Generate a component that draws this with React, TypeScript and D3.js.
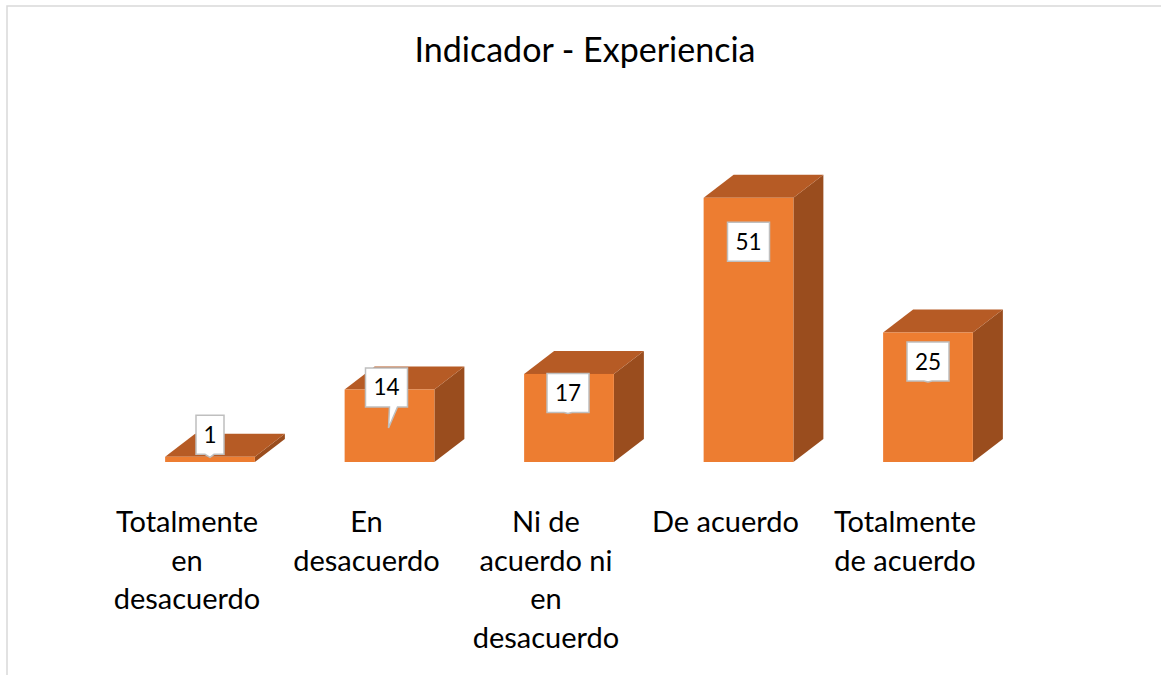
import React from "react";
import * as d3 from "d3";

const TITLE = "Indicador - Experiencia";
const categories = [
  "Totalmente en desacuerdo",
  "En desacuerdo",
  "Ni de acuerdo ni en desacuerdo",
  "De acuerdo",
  "Totalmente de acuerdo",
];
const categoryLines = [
  ["Totalmente", "en", "desacuerdo"],
  ["En", "desacuerdo"],
  ["Ni de", "acuerdo ni", "en", "desacuerdo"],
  ["De acuerdo"],
  ["Totalmente", "de acuerdo"],
];
const values = [1, 14, 17, 51, 25];

// callout placement tweaks (layout, not data)
const calloutLayout = [
  { dx: 0, dy: -22, tail: 3, tipDx: 0, baseL: -5, baseR: 4 },
  { dx: -3, dy: -2, tail: 21, tipDx: 2, baseL: 3, baseR: 11 },
  { dx: -1, dy: 19, tail: 1, tipDx: 0, baseL: -4, baseR: 4 },
  { dx: 0, dy: 44, tail: 0, tipDx: 0, baseL: -4, baseR: 4 },
  { dx: 0, dy: 29, tail: 1, tipDx: 0, baseL: -4, baseR: 4 },
];

const W = 1161;
const H = 675;
const FONT = "Lato, 'Open Sans', sans-serif";
const FRONT = "#ED7D31";
const TOP = "#B65B25";
const SIDE = "#9A4D1E";
const DX = 30;
const DY = -23;

export default function App() {
  const x = d3
    .scaleBand<string>()
    .domain(categories)
    .range([120.25, 1017.75])
    .paddingInner(0.5)
    .paddingOuter(0.25);
  const y = d3.scaleLinear().domain([0, 60]).range([462, 151.2]);
  const bw = x.bandwidth();

  return (
    <svg
      width={W}
      height={H}
      style={{ position: "absolute", left: 0, top: 0, display: "block" }}
      fontFamily={FONT}
    >
      <rect x={0} y={0} width={W} height={H} fill="#ffffff" />
      <rect
        x={7}
        y={6}
        width={W + 20}
        height={H + 20}
        fill="#ffffff"
        stroke="#d9d9d9"
        strokeWidth={1.5}
      />
      <text x={585} y={62} textAnchor="middle" fontSize={34} fill="#000000">
        {TITLE}
      </text>

      {categories.map((c, i) => {
        const x0 = x(c)!;
        const x1 = x0 + bw;
        const y0 = y(0);
        const yt = y(values[i]);
        const side = `M${x1},${yt} L${x1 + DX},${yt + DY} L${x1 + DX},${y0 + DY} L${x1},${y0} Z`;
        const top = `M${x0},${yt} L${x0 + DX},${yt + DY} L${x1 + DX},${yt + DY} L${x1},${yt} Z`;
        return (
          <g key={c}>
            <path d={side} fill={SIDE} />
            <path d={top} fill={TOP} />
            <rect x={x0} y={yt} width={bw} height={y0 - yt} fill={FRONT} />
          </g>
        );
      })}

      {categories.map((c, i) => {
        const L = calloutLayout[i];
        const cx = x(c)! + bw / 2 + L.dx;
        const cy = y(values[i]) + L.dy;
        const label = String(values[i]);
        const bwid = 14 + 14 * label.length;
        const bh = 39;
        const l = cx - bwid / 2;
        const r = cx + bwid / 2;
        const t = cy - bh / 2;
        const b = cy + bh / 2;
        const d =
          L.tail > 0
            ? `M${l},${t} H${r} V${b} H${cx + L.baseR} L${cx + L.tipDx},${b + L.tail} L${cx + L.baseL},${b} H${l} Z`
            : `M${l},${t} H${r} V${b} H${l} Z`;
        return (
          <g key={"lab" + c}>
            <path d={d} fill="#ffffff" stroke="#bfbfbf" strokeWidth={1.5} />
            <text
              x={cx}
              y={cy + 8}
              textAnchor="middle"
              fontSize={22.5}
              fill="#000000"
            >
              {label}
            </text>
          </g>
        );
      })}

      {categories.map((c, i) => {
        const cx = x(c)! + bw / 2 - 23;
        return (
          <text key={"cat" + c} textAnchor="middle" fontSize={29} fill="#000000">
            {categoryLines[i].map((ln, j) => (
              <tspan key={j} x={cx} y={532 + j * 38.7}>
                {ln}
              </tspan>
            ))}
          </text>
        );
      })}
    </svg>
  );
}
